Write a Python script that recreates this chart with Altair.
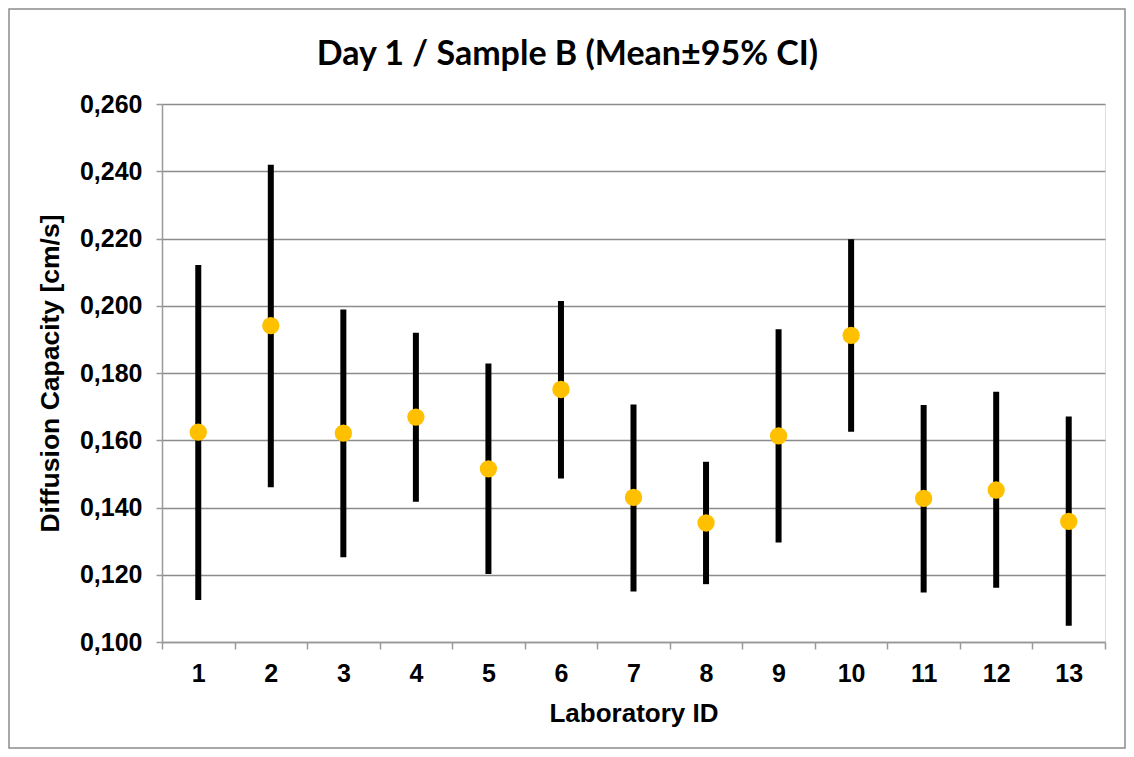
import altair as alt
import pandas as pd

labs = [str(i) for i in range(1, 14)]
means = [0.1624, 0.1941, 0.1621, 0.1669, 0.1515, 0.1751, 0.1430, 0.1354, 0.1613, 0.1912, 0.1427, 0.1452, 0.1359]
upper = [0.2121, 0.2419, 0.1989, 0.1920, 0.1828, 0.2014, 0.1706, 0.1536, 0.1930, 0.2198, 0.1705, 0.1744, 0.1671]
lower = [0.1125, 0.1460, 0.1252, 0.1417, 0.1202, 0.1486, 0.1150, 0.1172, 0.1296, 0.1625, 0.1147, 0.1161, 0.1048]
y_ticks = [0.100, 0.120, 0.140, 0.160, 0.180, 0.200, 0.220, 0.240, 0.260]

df = pd.DataFrame({"lab": labs, "mean": means, "upper": upper, "lower": lower})

W, H = 943, 538
PL, PT = 154, 96
PR = 1118 - PL - W
PB = 741 - PT - H

FONT = "Liberation Sans"

x_enc = alt.X(
    "lab:O",
    sort=labs,
    title="Laboratory ID",
    scale=alt.Scale(paddingInner=0, paddingOuter=0),
    axis=alt.Axis(
        labelAngle=0,
        tickBand="extent",
        tickSize=7,
        tickColor="#999999",
        domainColor="#999999",
        domainWidth=1.5,
        tickWidth=1.5,
        labelFont=FONT,
        labelFontSize=25,
        labelFontWeight="bold",
        labelColor="black",
        labelPadding=12,
        titleFont=FONT,
        titleFontSize=26,
        titleFontWeight="bold",
        titleColor="black",
        titlePadding=14,
        grid=False,
    ),
)

y_scale = alt.Scale(domain=[0.100, 0.260], nice=False, zero=False)

bars = alt.Chart(df).mark_rule(color="black", strokeWidth=6, strokeCap="butt").encode(
    x=x_enc,
    y=alt.Y(
        "lower:Q",
        scale=y_scale,
        title="Diffusion Capacity [cm/s]",
        axis=alt.Axis(
            values=y_ticks,
            labelExpr="replace(format(datum.value, '.3f'), '.', ',')",
            tickSize=6,
            tickColor="#999999",
            tickWidth=1.5,
            domainColor="#999999",
            domainWidth=1.5,
            gridColor="#8c8c8c",
            gridWidth=1.5,
            labelFont=FONT,
            labelFontSize=25,
            labelFontWeight="bold",
            labelColor="black",
            labelPadding=14,
            titleFont=FONT,
            titleFontSize=26.5,
            titleFontWeight="bold",
            titleColor="black",
            titlePadding=15,
        ),
    ),
    y2="upper:Q",
)

points = alt.Chart(df).mark_circle(color="#FFC000", opacity=1, size=300).encode(
    x=alt.X("lab:O", sort=labs),
    y=alt.Y("mean:Q", scale=y_scale),
)

border = alt.Chart(pd.DataFrame({"a": [0]})).mark_rect(
    filled=False, stroke="#8c8c8c", strokeWidth=1.5
).encode(
    x=alt.value(-PL + 1),
    x2=alt.value(W + PR - 1),
    y=alt.value(-PT + 1),
    y2=alt.value(H + PB - 1),
)

chart = alt.layer(border, bars, points).properties(
    width=W,
    height=H,
    autosize=alt.AutoSizeParams(type="none"),
    padding={"left": PL, "top": PT, "right": PR, "bottom": PB},
    title=alt.TitleParams(
        "Day 1 / Sample B (Mean±95% CI)",
        font="Lato",
        fontSize=34,
        fontWeight="bold",
        color="black",
        anchor="middle",
        frame="group",
        baseline="alphabetic",
        dx=-66,
        offset=-91,
    ),
).configure_view(stroke=None).configure(background="white")

chart.save("out.html", embed_options={"renderer": "svg", "actions": False})
